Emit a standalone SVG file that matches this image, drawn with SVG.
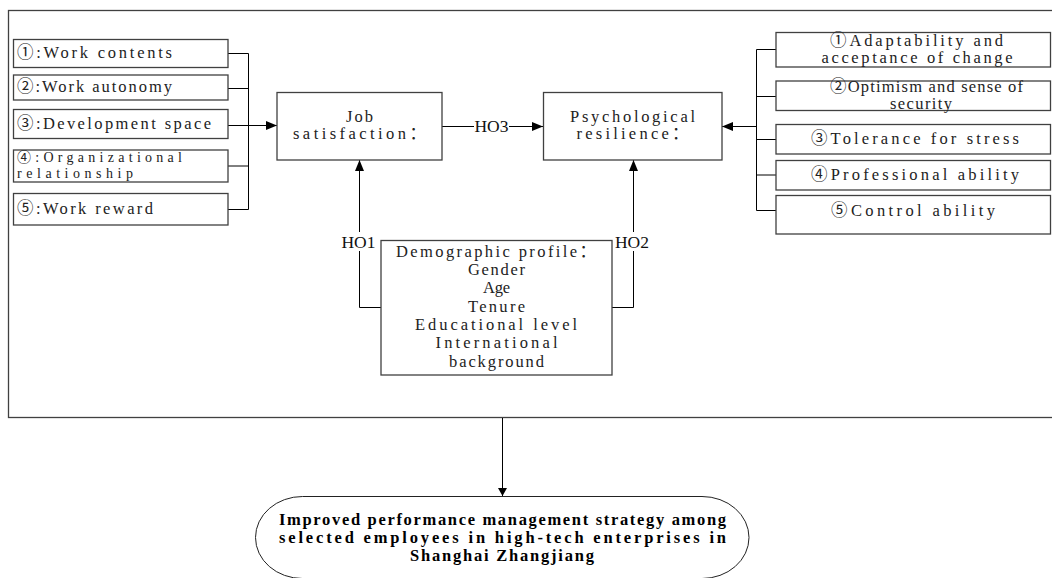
<svg xmlns="http://www.w3.org/2000/svg" width="1052" height="578" viewBox="0 0 1052 578">
<style>
.box{fill:#fff;stroke:#404040;stroke-width:1.3}
.frame{fill:none;stroke:#404040;stroke-width:1.3}
.t{font-family:"Liberation Serif","Noto Sans CJK SC",serif;font-size:16.5px;fill:#222}
.sm{font-size:14px}
.c{text-anchor:middle}
.h{font-family:"Liberation Serif","Noto Serif",serif;font-size:17.5px;fill:#111;text-anchor:middle}
.b{font-family:"Liberation Serif","Noto Sans CJK SC",serif;font-size:16.5px;font-weight:bold;fill:#000;text-anchor:middle}
.ln{fill:none;stroke:#000;stroke-width:1}
</style>
<defs>
<marker id="ah" markerUnits="userSpaceOnUse" markerWidth="11" markerHeight="9" refX="11" refY="4.5" orient="auto"><path d="M0,0 L11,4.5 L0,9 z" fill="#000"/></marker>
<marker id="ahs" markerUnits="userSpaceOnUse" markerWidth="8" markerHeight="9" refX="8" refY="4.5" orient="auto"><path d="M0,0 L8,4.5 L0,9 z" fill="#000"/></marker>
</defs>
<rect class="frame" x="8.5" y="10.5" width="1060" height="407"/>

<g id="connectors">
<path class="ln" d="M228 53.5 H248.5 M228 88.5 H248.5 M228 125.5 H248.5 M228 166 H248.5 M228 209.5 H248.5 M248.5 53.5 V209.5"/>
<path class="ln" d="M248.5 125.5 H277" marker-end="url(#ah)"/>
<path class="ln" d="M442 126.5 H474"/>
<path class="ln" d="M509 126.5 H543" marker-end="url(#ah)"/>
<path class="ln" d="M776 49.5 H756.5 M776 96.5 H756.5 M776 139.5 H756.5 M776 175 H756.5 M776 210.5 H756.5 M756.5 49.5 V210.5"/>
<path class="ln" d="M756.5 126.5 H722" marker-end="url(#ah)"/>
<path class="ln" d="M381 307.5 H359.5 V251"/>
<path class="ln" d="M359.5 232 V160" marker-end="url(#ah)"/>
<path class="ln" d="M612 307.5 H633.5 V251"/>
<path class="ln" d="M633.5 232 V160" marker-end="url(#ah)"/>
<path class="ln" d="M502.5 418 V496" marker-end="url(#ahs)"/>
<text class="h" x="491.5" y="132">HO3</text>
<text class="h" x="358.5" y="248">HO1</text>
<text class="h" x="632" y="248">HO2</text>
</g>

<g id="l1"><rect class="box" x="13.5" y="39.5" width="214.5" height="28"/><text class="t" x="17" y="58" textLength="155">①:Work contents</text></g>
<g id="l2"><rect class="box" x="13.5" y="75" width="214.5" height="25"/><text class="t" x="17" y="92" textLength="155">②:Work autonomy</text></g>
<g id="l3"><rect class="box" x="13.5" y="109.5" width="214.5" height="29"/><text class="t" x="17" y="129" textLength="194">③:Development space</text></g>
<g id="l4"><rect class="box" x="13.5" y="150" width="214.5" height="32"/><text class="t sm" x="17" y="161.5" textLength="165">④:Organizational</text><text class="t sm" x="17" y="178" textLength="116">relationship</text></g>
<g id="l5"><rect class="box" x="13.5" y="193.5" width="214.5" height="31.5"/><text class="t" x="17" y="214" textLength="136">⑤:Work reward</text></g>

<g id="job"><rect class="box" x="277" y="92.5" width="165" height="67.5"/><text class="t c" x="359.5" y="122" textLength="27">Job</text><text class="t c" x="359.5" y="139" textLength="133">satisfaction：</text></g>
<g id="psy"><rect class="box" x="543.5" y="92.5" width="178.5" height="67.5"/><text class="t c" x="632.5" y="122" textLength="125">Psychological</text><text class="t c" x="632.5" y="139" textLength="112">resilience：</text></g>

<g id="r1"><rect class="box" x="776" y="32.5" width="274.5" height="34.5"/><text class="t c" x="916.5" y="46" textLength="173">①Adaptability and</text><text class="t c" x="917" y="63" textLength="191">acceptance of change</text></g>
<g id="r2"><rect class="box" x="776" y="81" width="274.5" height="29.5"/><text class="t c" x="926.5" y="92" textLength="193">②Optimism and sense of</text><text class="t c" x="921" y="109" textLength="62">security</text></g>
<g id="r3"><rect class="box" x="776" y="124.5" width="274.5" height="29.5"/><text class="t c" x="915" y="144" textLength="208">③Tolerance for stress</text></g>
<g id="r4"><rect class="box" x="776" y="160.5" width="274.5" height="29.5"/><text class="t c" x="915" y="180" textLength="208">④Professional ability</text></g>
<g id="r5"><rect class="box" x="776" y="195.5" width="274.5" height="38.5"/><text class="t c" x="913" y="216" textLength="164">⑤Control ability</text></g>

<g id="demo"><rect class="box" x="381" y="240.5" width="231" height="134.5"/>
<text class="t c" x="496" y="257" textLength="200">Demographic profile：</text>
<text class="t c" x="496.5" y="275" textLength="57">Gender</text>
<text class="t c" x="496.5" y="293" textLength="27">Age</text>
<text class="t c" x="496.5" y="311.5" textLength="57">Tenure</text>
<text class="t c" x="496" y="330" textLength="162">Educational level</text>
<text class="t c" x="496.5" y="348" textLength="122">International</text>
<text class="t c" x="496.5" y="366.5" textLength="95">background</text>
</g>

<g id="outcome"><rect x="255.5" y="496.5" width="493.5" height="82" rx="47" ry="41" fill="#fff" stroke="#222" stroke-width="1"/>
<text class="b" x="502.5" y="525" textLength="447">Improved performance management strategy among</text>
<text class="b" x="502.5" y="543" textLength="447">selected employees in high-tech enterprises in</text>
<text class="b" x="502" y="561" textLength="184">Shanghai Zhangjiang</text>
</g>
</svg>
